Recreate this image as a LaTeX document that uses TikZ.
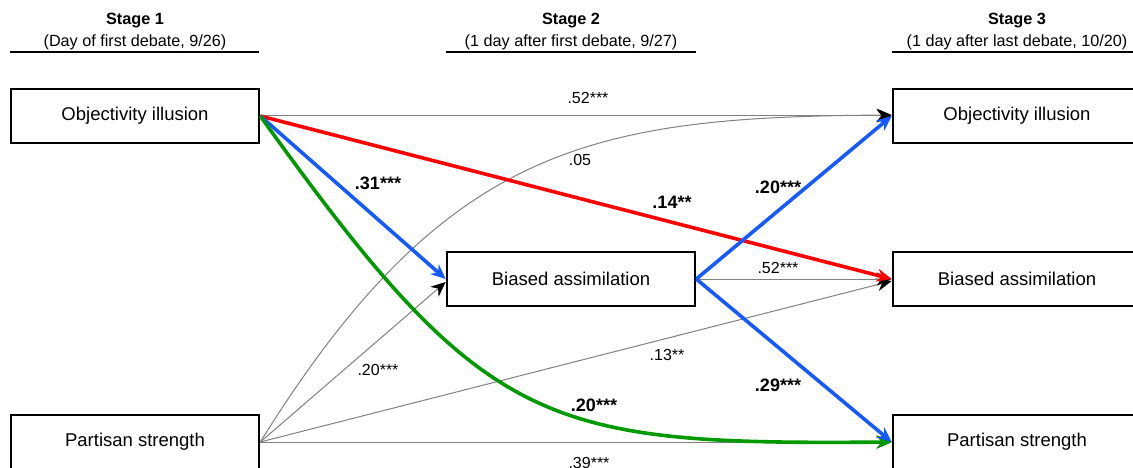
\documentclass[tikz,border=0pt]{standalone}
\usepackage{fontspec}
\setmainfont{Liberation Sans}
\usetikzlibrary{arrows.meta}
\definecolor{pred}{RGB}{255,0,0}
\definecolor{pblue}{RGB}{20,90,255}
\definecolor{pgreen}{RGB}{0,153,0}
\definecolor{pgray}{RGB}{128,128,128}
\begin{document}
\begin{tikzpicture}[x=1pt,y=-1pt,
  box/.style={draw,line width=2.6pt,minimum width=248pt,minimum height=54pt,inner sep=0pt,font=\fontsize{18.5}{22}\selectfont},
  stagehead/.style={font=\fontsize{16.3}{19}\selectfont\bfseries,inner sep=0pt},
  stagesub/.style={font=\fontsize{16.2}{19}\selectfont,inner sep=0pt},
  rule/.style={line width=2pt},
  tip/.style={-{Stealth[length=15pt,width=13pt,inset=5pt]}},
  thinpath/.style={tip,draw=pgray,line width=1pt,-{Stealth[length=15pt,width=13pt,inset=5pt,color=black]}},
  thickpath/.style={tip,line width=3.6pt},
  coef/.style={font=\fontsize{16}{19}\selectfont,inner sep=0pt},
  bcoef/.style={font=\fontsize{18}{21}\selectfont\bfseries,inner sep=0pt}]
\clip (0,0) rectangle (1133,468);
% headers
\node[stagehead] (h1) at (135,21) {Stage 1};
\node[stagesub] (s1) at (135,42) {(Day of first debate, 9/26)};
\node[stagehead] (h2) at (571,21) {Stage 2};
\node[stagesub] (s2) at (571,42) {(1 day after first debate, 9/27)};
\node[stagehead] (h3) at (1017,21) {Stage 3};
\node[stagesub] (s3) at (1017,42) {(1 day after last debate, 10/20)};
\coordinate (u1a) at (10,52.5); \coordinate (u1b) at (259,52.5);
\coordinate (u2a) at (446,52.5); \coordinate (u2b) at (696,52.5);
\coordinate (u3a) at (892,52.5); \coordinate (u3b) at (1142,52.5);
\draw[rule] (u1a) -- (u1b);
\draw[rule] (u2a) -- (u2b);
\draw[rule] (u3a) -- (u3b);
% boxes
\node[box] (oi1) at (135,116) {Objectivity illusion};
\node[box] (ps1) at (135,442) {Partisan strength};
\node[box] (ba2) at (571,279) {Biased assimilation};
\node[box] (oi3) at (1017,116) {Objectivity illusion};
\node[box] (ba3) at (1017,279) {Biased assimilation};
\node[box] (ps3) at (1017,442) {Partisan strength};
% thin grey paths
\draw[thinpath] (oi1.east) -- (oi3.west);
\draw[thinpath] (ps1.east) .. controls (445,145) and (592,117) .. ([yshift=1pt]oi3.west);
\draw[thinpath] (ps1.east) -- ([yshift=-3pt]ba2.west);
\draw[thinpath] (ps1.east) -- ([yshift=-2pt]ba3.west);
\draw[thinpath] (ps1.east) -- (ps3.west);
\draw[thinpath] (ba2.east) -- (ba3.west);
% thick coloured paths
\draw[thickpath,pred] (oi1.east) -- (ba3.west);
\draw[thickpath,pblue] (oi1.east) -- (ba2.west);
\draw[thickpath,pgreen] (oi1.east) .. controls (485,430) and (542,445) .. (ps3.west);
\draw[thickpath,pblue] (ba2.east) -- (oi3.west);
\draw[thickpath,pblue] (ba2.east) -- (ps3.west);
% coefficients
\node[coef] (c1) at (588,98) {.52***};
\node[coef] (c2) at (580,160) {.05};
\node[bcoef] (c3) at (378,183) {.31***};
\node[bcoef] (c4) at (672,202) {.14**};
\node[bcoef] (c5) at (778,187) {.20***};
\node[coef] (c6) at (778,268) {.52***};
\node[coef] (c7) at (667,355) {.13**};
\node[coef] (c8) at (378,370) {.20***};
\node[bcoef] (c9) at (778,385) {.29***};
\node[bcoef] (c10) at (594,405) {.20***};
\node[coef] (c11) at (589,463) {.39***};
\end{tikzpicture}
\end{document}
